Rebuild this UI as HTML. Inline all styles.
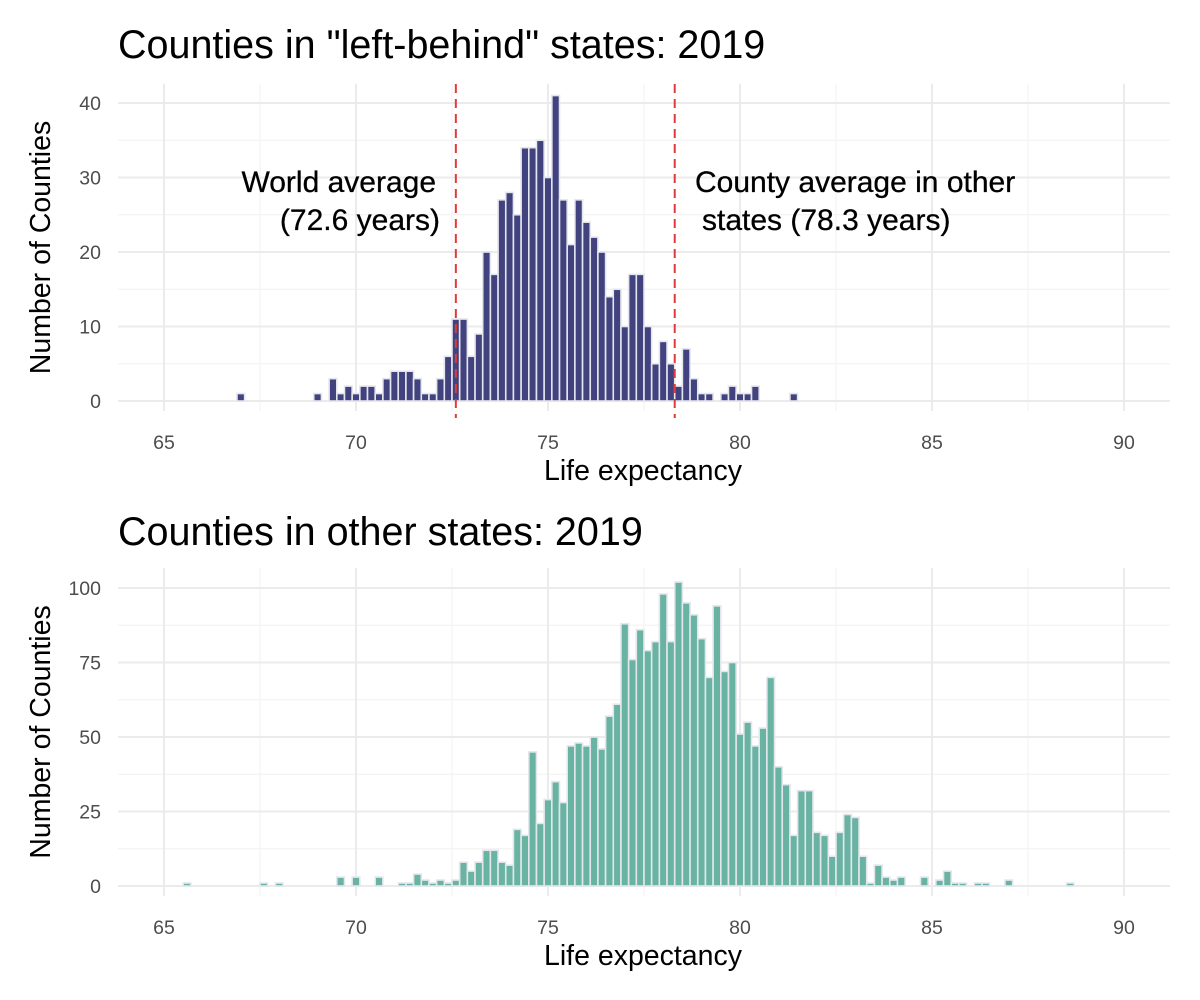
<!DOCTYPE html>
<html><head><meta charset="utf-8"><style>
body{margin:0;background:#fff}
svg{display:block;font-family:"Liberation Sans",Arial,sans-serif}
</style></head><body>
<svg id="chart" width="1200" height="1000" viewBox="0 0 1200 1000">
<text x="118" y="58" font-size="39.5" fill="#000">Counties in "left-behind" states: 2019</text>
<text x="118" y="545" font-size="39.5" fill="#000">Counties in other states: 2019</text>
<g id="top"></g>
<g id="bot"></g>
</svg>
<script>
const topStart = 67.0;
const topCounts = [1,0,0,0,0,0,0,0,0,0,1,0,3,1,2,1,2,2,1,3,4,4,4,3,1,1,3,6,11,11,6,9,20,17,27,28,25,34,34,35,30,41,27,21,27,24,22,20,14,15,10,17,17,10,5,8,5,2,7,3,1,1,0,1,2,1,1,2,0,0,0,0,1];
const botStart = 65.6;
const botCounts = [1,0,0,0,0,0,0,0,0,0,1,0,1,0,0,0,0,0,0,0,3,0,3,0,0,3,0,0,1,1,4,2,1,2,1,2,8,5,8,12,12,8,7,19,17,45,21,29,35,28,47,48,47,50,46,57,61,88,76,86,79,82,98,82,102,95,91,83,70,94,72,75,51,55,47,53,70,40,34,17,32,32,18,17,10,18,24,23,10,1,7,3,2,3,0,0,3,0,2,5,1,1,0,1,1,0,0,2,0,0,0,0,0,0,0,1];
const xTicks = [65,70,75,80,85,90];
const xMinor = [67.5,72.5,77.5,82.5,87.5];
const topYTicks = [0,10,20,30,40];
const topYMinor = [5,15,25,35];
const botYTicks = [0,25,50,75,100];
const botYMinor = [12.5,37.5,62.5,87.5];
const refLines = [72.6, 78.3];
const binWidth = 0.2;

const NS = "http://www.w3.org/2000/svg";
function x(v){ return 164 + (v-65)*38.4; }
function mk(parent, tag, attrs){ const e=document.createElementNS(NS,tag); for(const k in attrs) e.setAttribute(k,attrs[k]); parent.appendChild(e); return e; }

function panel(g, cfg){
  const y = c => cfg.y0 - c*cfg.k;
  cfg.yMinor.forEach(t=>{ const l=mk(g,'line',{x1:118,x2:1170,y1:y(t),y2:y(t),stroke:'#f0f0f0','stroke-width':1});
    
     });
  xMinor.forEach(t=>{ const l=mk(g,'line',{x1:x(t),x2:x(t),y1:cfg.top,y2:cfg.bottom,stroke:'#f0f0f0','stroke-width':1});
    
     });
  cfg.yTicks.forEach(t=>{ const l=mk(g,'line',{x1:118,x2:1170,y1:y(t),y2:y(t),stroke:'#ebebeb','stroke-width':2});
    
    
    const tx=mk(g,'text',{x:101,y:y(t)+7,'text-anchor':'end','font-size':19.5,fill:'#4d4d4d'}); tx.textContent=t;
    
     });
  xTicks.forEach(t=>{ const l=mk(g,'line',{x1:x(t),x2:x(t),y1:cfg.top,y2:cfg.bottom,stroke:'#ebebeb','stroke-width':2});
    
    
    const tx=mk(g,'text',{x:x(t),y:cfg.xlab,'text-anchor':'middle','font-size':19.5,fill:'#4d4d4d'}); tx.textContent=t;
    
     });
  cfg.counts.forEach((c,i)=>{ if(c<=0) return;
    const ctr = cfg.start + i*binWidth;
    const r=mk(g,'rect',{x:x(ctr-binWidth/2),y:y(c),width:binWidth*38.4,height:c*cfg.k,fill:cfg.fill,stroke:'#e4e6ee','stroke-width':1.6});
    
     });
  const at=mk(g,'text',{x:643,y:cfg.xlab+31,'text-anchor':'middle','font-size':28.5,fill:'#000'}); at.textContent='Life expectancy';
  
  
  const cy=(cfg.top+cfg.bottom)/2;
  const yt=mk(g,'text',{x:0,y:0,transform:`translate(50,${cy}) rotate(-90)`,'text-anchor':'middle','font-size':28.5,fill:'#000'}); yt.textContent='Number of Counties';
  
  
  return y;
}
const gt=document.getElementById('top'), gb=document.getElementById('bot');
panel(gt,{y0:401,k:7.45,top:84,bottom:411,xlab:449,yTicks:topYTicks,yMinor:topYMinor,counts:topCounts,start:topStart,fill:'#41427e'});
panel(gb,{y0:886,k:2.98,top:568,bottom:896,xlab:934,yTicks:botYTicks,yMinor:botYMinor,counts:botCounts,start:botStart,fill:'#69b3a2'});
refLines.forEach(v=>{ const l=mk(gt,'line',{x1:x(v),x2:x(v),y1:84,y2:418,stroke:'#e03a3a','stroke-width':2,'stroke-dasharray':'9,6'});
  
   });
const ann=[["World average",436,192,'end'],["(72.6 years)",440,230,'end'],["County average in other",695,192,'start'],["states (78.3 years)",702,230,'start']];
ann.forEach(a=>{ const t=mk(gt,'text',{x:a[1],y:a[2],'text-anchor':a[3],'font-size':30,fill:'#000',stroke:'#000','stroke-width':0.3}); t.textContent=a[0];
  
   });
</script>
</body></html>
